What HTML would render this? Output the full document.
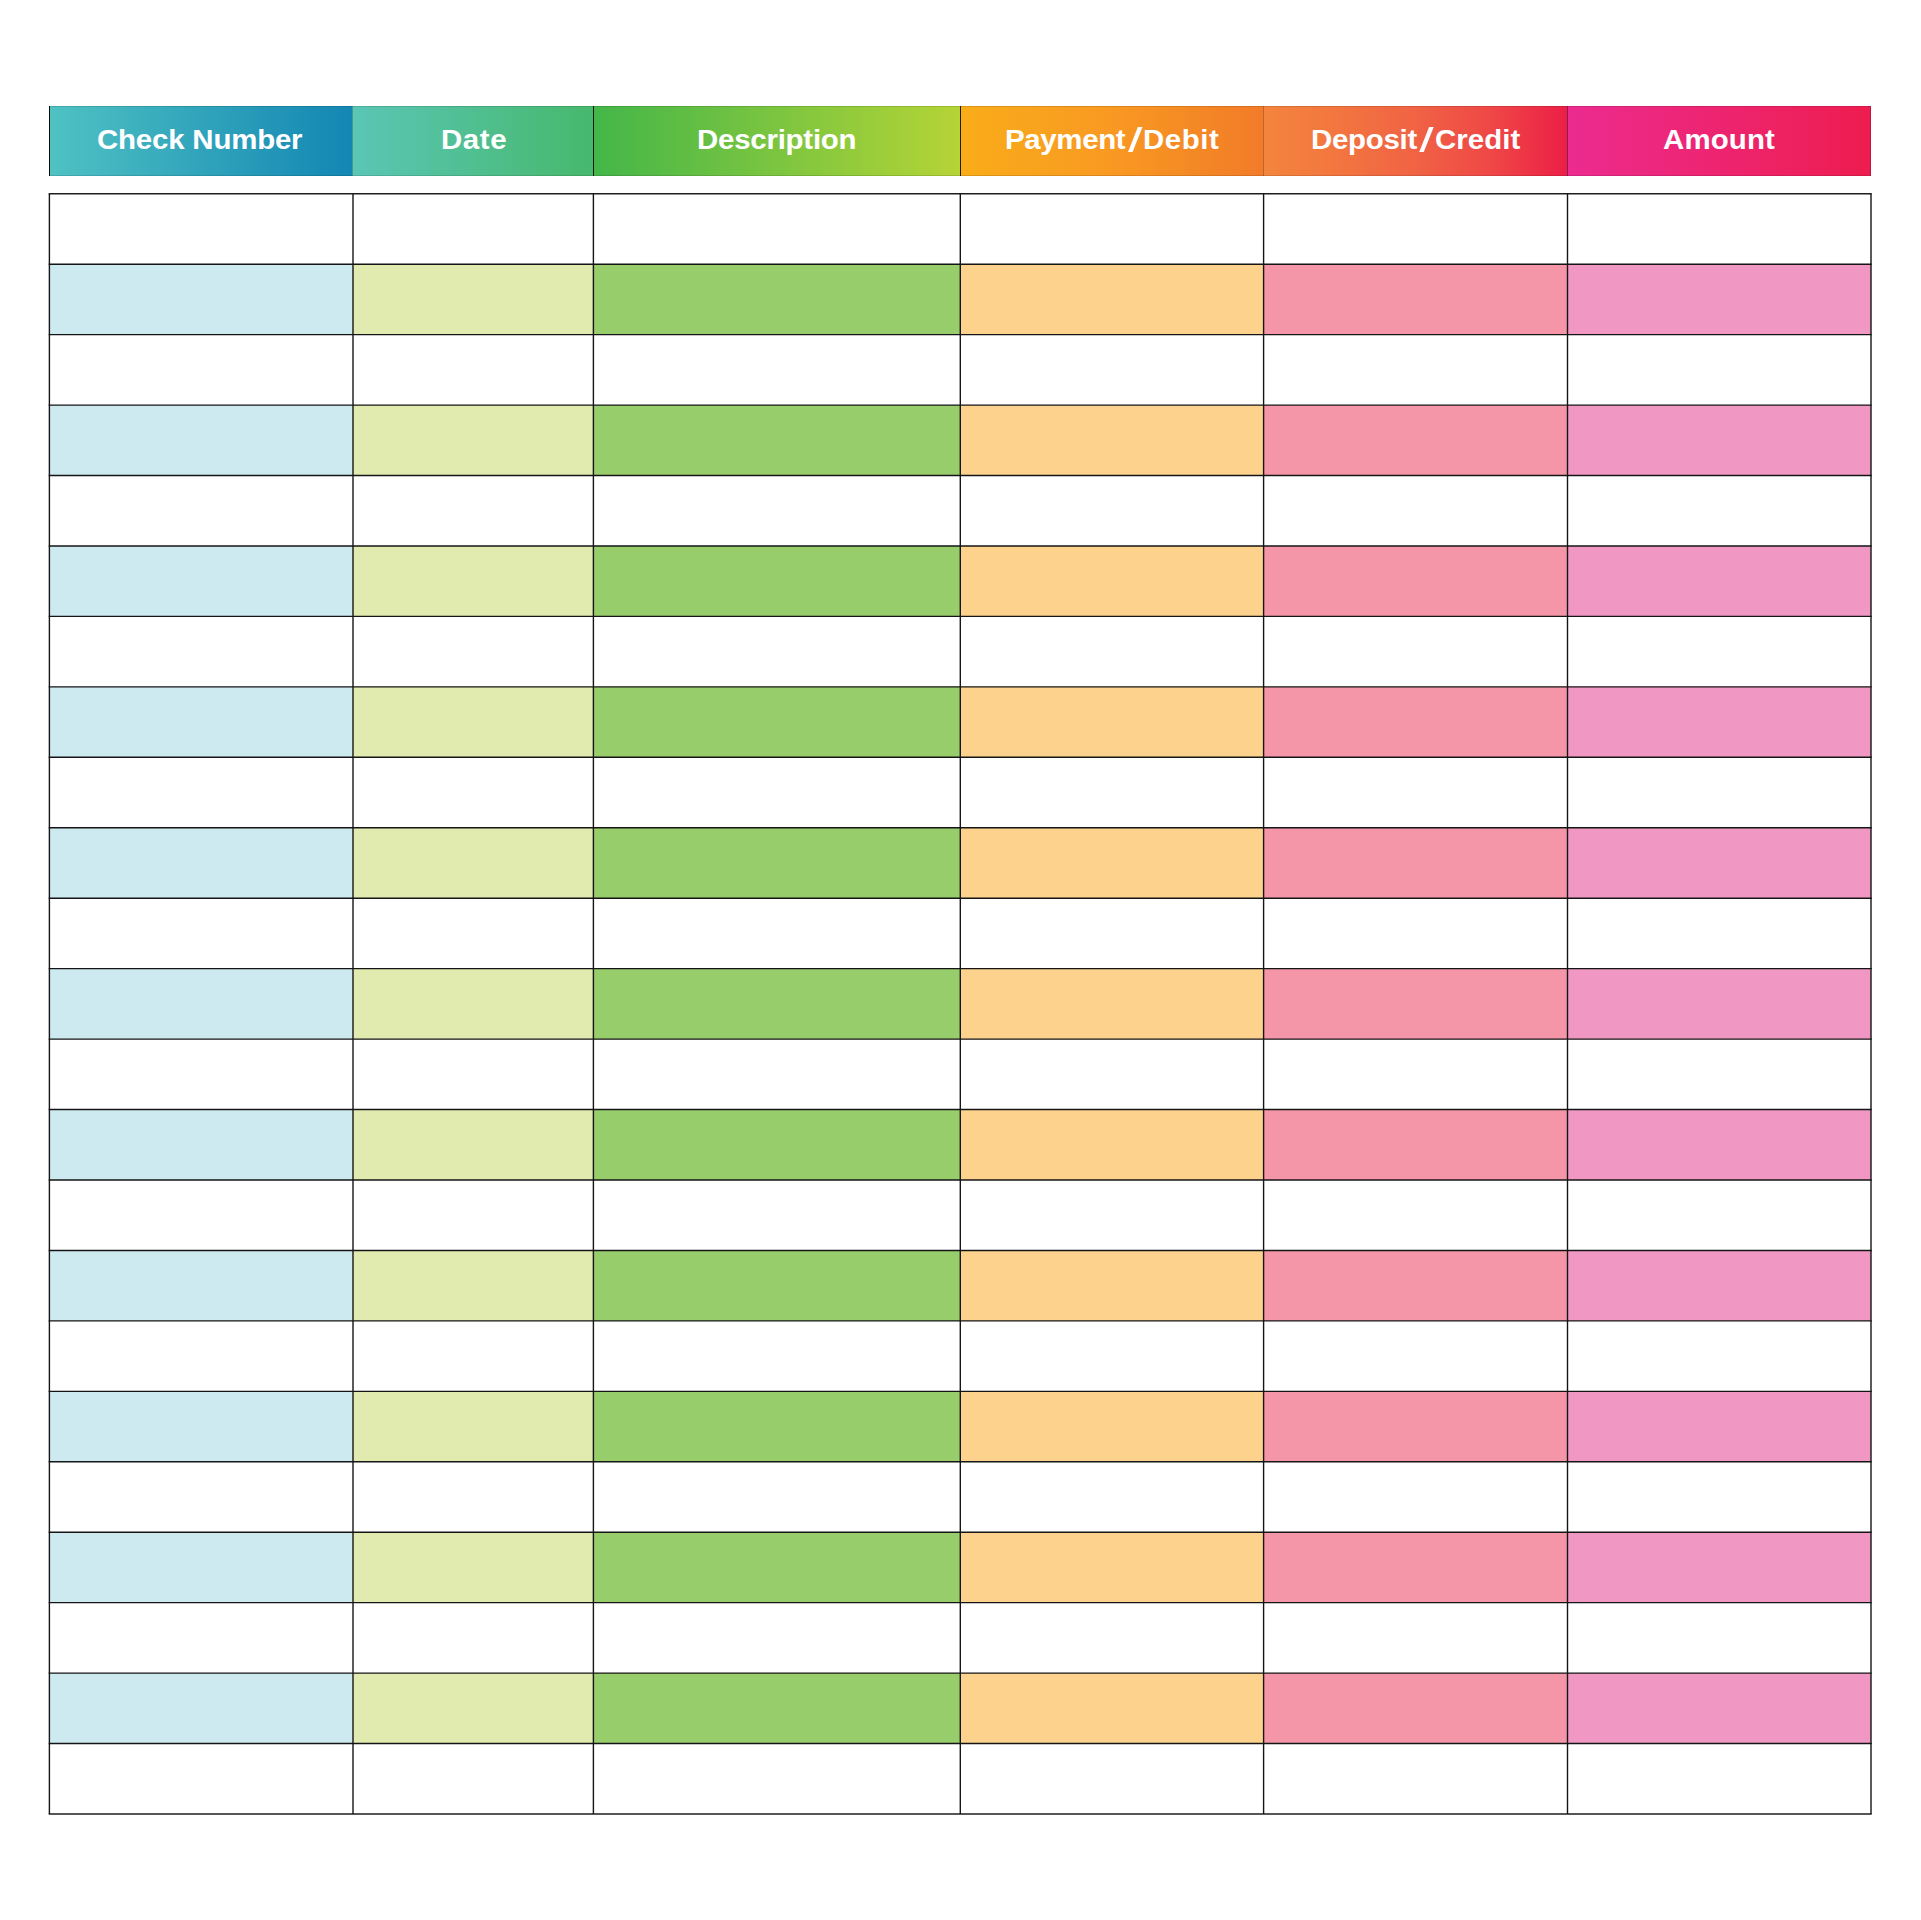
<!DOCTYPE html>
<html><head><meta charset="utf-8"><title>Check Register</title>
<style>
html,body{margin:0;padding:0;background:#fff;}
body{width:1921px;height:1920px;position:relative;overflow:hidden;font-family:"Liberation Sans",sans-serif;}
.h{position:absolute;top:106px;height:70px;}
.t{position:absolute;top:0;height:70px;line-height:70px;color:#fff;font-weight:bold;font-size:27.5px;white-space:nowrap;transform:scaleX(1.07);transform-origin:0 0;}
svg{position:absolute;left:0;top:0;}
</style></head><body>
<div class="h" style="left:49px;width:303px;background:linear-gradient(to right,#4FC2C3,#1386B4)"></div>
<div class="h" style="left:352px;width:241px;background:linear-gradient(to right,#5AC6B6,#47B86C)"></div>
<div class="h" style="left:593px;width:367px;background:linear-gradient(to right,#43B649,#B5D436)"></div>
<div class="h" style="left:960px;width:303px;background:linear-gradient(to right,#F9AC18 0%,#F9A31E 25%,#F99922 50%,#F48A24 75%,#F37B29 100%)"></div>
<div class="h" style="left:1263px;width:304px;background:linear-gradient(to right,#F3853D 0%,#F3753F 25%,#F06344 50%,#EF4746 75%,#EC1F46 100%)"></div>
<div class="h" style="left:1567px;width:304px;background:linear-gradient(to right,#EC2B90,#EE1D4F)"></div>
<div class="h" style="left:49px;width:1px;background:rgba(0,0,0,0.95)"></div>
<div class="h" style="left:352px;width:1px;background:rgba(0,0,0,0.22)"></div>
<div class="h" style="left:593px;width:1px;background:rgba(0,0,0,0.85)"></div>
<div class="h" style="left:960px;width:1px;background:rgba(0,0,0,0.85)"></div>
<div class="h" style="left:1263px;width:1px;background:rgba(0,0,0,0.23)"></div>
<div class="h" style="left:1567px;width:1px;background:rgba(0,0,0,0.40)"></div>
<svg width="1921" height="1920" viewBox="0 0 1921 1920">
<rect x="49.40" y="264.20" width="303.60" height="70.45" fill="#CEEAF1"/>
<rect x="353.00" y="264.20" width="240.40" height="70.45" fill="#E2EBAF"/>
<rect x="593.40" y="264.20" width="366.90" height="70.45" fill="#98CD6C"/>
<rect x="960.30" y="264.20" width="303.30" height="70.45" fill="#FDD28D"/>
<rect x="1263.60" y="264.20" width="303.90" height="70.45" fill="#F596A8"/>
<rect x="1567.50" y="264.20" width="303.50" height="70.45" fill="#F098C3"/>
<rect x="49.40" y="405.09" width="303.60" height="70.45" fill="#CEEAF1"/>
<rect x="353.00" y="405.09" width="240.40" height="70.45" fill="#E2EBAF"/>
<rect x="593.40" y="405.09" width="366.90" height="70.45" fill="#98CD6C"/>
<rect x="960.30" y="405.09" width="303.30" height="70.45" fill="#FDD28D"/>
<rect x="1263.60" y="405.09" width="303.90" height="70.45" fill="#F596A8"/>
<rect x="1567.50" y="405.09" width="303.50" height="70.45" fill="#F098C3"/>
<rect x="49.40" y="545.98" width="303.60" height="70.45" fill="#CEEAF1"/>
<rect x="353.00" y="545.98" width="240.40" height="70.45" fill="#E2EBAF"/>
<rect x="593.40" y="545.98" width="366.90" height="70.45" fill="#98CD6C"/>
<rect x="960.30" y="545.98" width="303.30" height="70.45" fill="#FDD28D"/>
<rect x="1263.60" y="545.98" width="303.90" height="70.45" fill="#F596A8"/>
<rect x="1567.50" y="545.98" width="303.50" height="70.45" fill="#F098C3"/>
<rect x="49.40" y="686.87" width="303.60" height="70.45" fill="#CEEAF1"/>
<rect x="353.00" y="686.87" width="240.40" height="70.45" fill="#E2EBAF"/>
<rect x="593.40" y="686.87" width="366.90" height="70.45" fill="#98CD6C"/>
<rect x="960.30" y="686.87" width="303.30" height="70.45" fill="#FDD28D"/>
<rect x="1263.60" y="686.87" width="303.90" height="70.45" fill="#F596A8"/>
<rect x="1567.50" y="686.87" width="303.50" height="70.45" fill="#F098C3"/>
<rect x="49.40" y="827.76" width="303.60" height="70.45" fill="#CEEAF1"/>
<rect x="353.00" y="827.76" width="240.40" height="70.45" fill="#E2EBAF"/>
<rect x="593.40" y="827.76" width="366.90" height="70.45" fill="#98CD6C"/>
<rect x="960.30" y="827.76" width="303.30" height="70.45" fill="#FDD28D"/>
<rect x="1263.60" y="827.76" width="303.90" height="70.45" fill="#F596A8"/>
<rect x="1567.50" y="827.76" width="303.50" height="70.45" fill="#F098C3"/>
<rect x="49.40" y="968.65" width="303.60" height="70.45" fill="#CEEAF1"/>
<rect x="353.00" y="968.65" width="240.40" height="70.45" fill="#E2EBAF"/>
<rect x="593.40" y="968.65" width="366.90" height="70.45" fill="#98CD6C"/>
<rect x="960.30" y="968.65" width="303.30" height="70.45" fill="#FDD28D"/>
<rect x="1263.60" y="968.65" width="303.90" height="70.45" fill="#F596A8"/>
<rect x="1567.50" y="968.65" width="303.50" height="70.45" fill="#F098C3"/>
<rect x="49.40" y="1109.54" width="303.60" height="70.45" fill="#CEEAF1"/>
<rect x="353.00" y="1109.54" width="240.40" height="70.45" fill="#E2EBAF"/>
<rect x="593.40" y="1109.54" width="366.90" height="70.45" fill="#98CD6C"/>
<rect x="960.30" y="1109.54" width="303.30" height="70.45" fill="#FDD28D"/>
<rect x="1263.60" y="1109.54" width="303.90" height="70.45" fill="#F596A8"/>
<rect x="1567.50" y="1109.54" width="303.50" height="70.45" fill="#F098C3"/>
<rect x="49.40" y="1250.43" width="303.60" height="70.45" fill="#CEEAF1"/>
<rect x="353.00" y="1250.43" width="240.40" height="70.45" fill="#E2EBAF"/>
<rect x="593.40" y="1250.43" width="366.90" height="70.45" fill="#98CD6C"/>
<rect x="960.30" y="1250.43" width="303.30" height="70.45" fill="#FDD28D"/>
<rect x="1263.60" y="1250.43" width="303.90" height="70.45" fill="#F596A8"/>
<rect x="1567.50" y="1250.43" width="303.50" height="70.45" fill="#F098C3"/>
<rect x="49.40" y="1391.33" width="303.60" height="70.45" fill="#CEEAF1"/>
<rect x="353.00" y="1391.33" width="240.40" height="70.45" fill="#E2EBAF"/>
<rect x="593.40" y="1391.33" width="366.90" height="70.45" fill="#98CD6C"/>
<rect x="960.30" y="1391.33" width="303.30" height="70.45" fill="#FDD28D"/>
<rect x="1263.60" y="1391.33" width="303.90" height="70.45" fill="#F596A8"/>
<rect x="1567.50" y="1391.33" width="303.50" height="70.45" fill="#F098C3"/>
<rect x="49.40" y="1532.22" width="303.60" height="70.45" fill="#CEEAF1"/>
<rect x="353.00" y="1532.22" width="240.40" height="70.45" fill="#E2EBAF"/>
<rect x="593.40" y="1532.22" width="366.90" height="70.45" fill="#98CD6C"/>
<rect x="960.30" y="1532.22" width="303.30" height="70.45" fill="#FDD28D"/>
<rect x="1263.60" y="1532.22" width="303.90" height="70.45" fill="#F596A8"/>
<rect x="1567.50" y="1532.22" width="303.50" height="70.45" fill="#F098C3"/>
<rect x="49.40" y="1673.11" width="303.60" height="70.45" fill="#CEEAF1"/>
<rect x="353.00" y="1673.11" width="240.40" height="70.45" fill="#E2EBAF"/>
<rect x="593.40" y="1673.11" width="366.90" height="70.45" fill="#98CD6C"/>
<rect x="960.30" y="1673.11" width="303.30" height="70.45" fill="#FDD28D"/>
<rect x="1263.60" y="1673.11" width="303.90" height="70.45" fill="#F596A8"/>
<rect x="1567.50" y="1673.11" width="303.50" height="70.45" fill="#F098C3"/>
<line x1="48.70" y1="193.75" x2="1871.70" y2="193.75" stroke="#1e1e1e" stroke-width="1.4"/>
<line x1="48.70" y1="264.20" x2="1871.70" y2="264.20" stroke="#151515" stroke-width="1.4"/>
<line x1="48.70" y1="334.64" x2="1871.70" y2="334.64" stroke="#151515" stroke-width="1.4"/>
<line x1="48.70" y1="405.09" x2="1871.70" y2="405.09" stroke="#151515" stroke-width="1.4"/>
<line x1="48.70" y1="475.53" x2="1871.70" y2="475.53" stroke="#151515" stroke-width="1.4"/>
<line x1="48.70" y1="545.98" x2="1871.70" y2="545.98" stroke="#151515" stroke-width="1.4"/>
<line x1="48.70" y1="616.42" x2="1871.70" y2="616.42" stroke="#151515" stroke-width="1.4"/>
<line x1="48.70" y1="686.87" x2="1871.70" y2="686.87" stroke="#151515" stroke-width="1.4"/>
<line x1="48.70" y1="757.32" x2="1871.70" y2="757.32" stroke="#151515" stroke-width="1.4"/>
<line x1="48.70" y1="827.76" x2="1871.70" y2="827.76" stroke="#151515" stroke-width="1.4"/>
<line x1="48.70" y1="898.21" x2="1871.70" y2="898.21" stroke="#151515" stroke-width="1.4"/>
<line x1="48.70" y1="968.65" x2="1871.70" y2="968.65" stroke="#151515" stroke-width="1.4"/>
<line x1="48.70" y1="1039.10" x2="1871.70" y2="1039.10" stroke="#151515" stroke-width="1.4"/>
<line x1="48.70" y1="1109.54" x2="1871.70" y2="1109.54" stroke="#151515" stroke-width="1.4"/>
<line x1="48.70" y1="1179.99" x2="1871.70" y2="1179.99" stroke="#151515" stroke-width="1.4"/>
<line x1="48.70" y1="1250.43" x2="1871.70" y2="1250.43" stroke="#151515" stroke-width="1.4"/>
<line x1="48.70" y1="1320.88" x2="1871.70" y2="1320.88" stroke="#151515" stroke-width="1.4"/>
<line x1="48.70" y1="1391.33" x2="1871.70" y2="1391.33" stroke="#151515" stroke-width="1.4"/>
<line x1="48.70" y1="1461.77" x2="1871.70" y2="1461.77" stroke="#151515" stroke-width="1.4"/>
<line x1="48.70" y1="1532.22" x2="1871.70" y2="1532.22" stroke="#151515" stroke-width="1.4"/>
<line x1="48.70" y1="1602.66" x2="1871.70" y2="1602.66" stroke="#151515" stroke-width="1.4"/>
<line x1="48.70" y1="1673.11" x2="1871.70" y2="1673.11" stroke="#151515" stroke-width="1.4"/>
<line x1="48.70" y1="1743.55" x2="1871.70" y2="1743.55" stroke="#151515" stroke-width="1.4"/>
<line x1="48.70" y1="1814.00" x2="1871.70" y2="1814.00" stroke="#1e1e1e" stroke-width="1.4"/>
<line x1="49.40" y1="193.75" x2="49.40" y2="1814.00" stroke="#151515" stroke-width="1.4"/>
<line x1="353.00" y1="193.75" x2="353.00" y2="1814.00" stroke="#151515" stroke-width="1.4"/>
<line x1="593.40" y1="193.75" x2="593.40" y2="1814.00" stroke="#151515" stroke-width="1.4"/>
<line x1="960.30" y1="193.75" x2="960.30" y2="1814.00" stroke="#151515" stroke-width="1.4"/>
<line x1="1263.60" y1="193.75" x2="1263.60" y2="1814.00" stroke="#151515" stroke-width="1.4"/>
<line x1="1567.50" y1="193.75" x2="1567.50" y2="1814.00" stroke="#151515" stroke-width="1.4"/>
<line x1="1871.00" y1="193.75" x2="1871.00" y2="1814.00" stroke="#151515" stroke-width="1.4"/>
<polygon points="1128.00,152.00 1132.60,152.00 1142.50,127.10 1137.90,127.10" fill="#fff"/>
<polygon points="1419.20,152.00 1423.80,152.00 1433.70,127.10 1429.10,127.10" fill="#fff"/>
</svg>
<div style="position:absolute;left:49px;width:1822px;top:106px;height:1px;background:rgba(0,0,0,0.12)"></div>
<div style="position:absolute;left:49px;width:1822px;top:175px;height:1px;background:rgba(0,0,0,0.12)"></div>
<div style="position:absolute;left:1870px;width:1px;top:106px;height:70px;background:rgba(0,0,0,0.2)"></div>
<div class="t" id="s0" style="top:105.20px;left:97.28px;letter-spacing:-0.180px">Check Number</div>
<div class="t" id="s1" style="top:105.20px;left:440.72px;letter-spacing:0.559px">Date</div>
<div class="t" id="s2" style="top:105.20px;left:697.49px;letter-spacing:-0.215px">Description</div>
<div class="t" id="s3" style="top:105.20px;left:1005.07px;letter-spacing:-0.312px">Payment</div>
<div class="t" id="s4" style="top:105.20px;left:1142.77px;letter-spacing:0.511px">Debit</div>
<div class="t" id="s5" style="top:105.20px;left:1310.93px;letter-spacing:-0.251px">Deposit</div>
<div class="t" id="s6" style="top:105.20px;left:1434.68px;letter-spacing:0.076px">Credit</div>
<div class="t" id="s7" style="top:105.20px;left:1663.07px;letter-spacing:0.126px">Amount</div>
</body></html>
